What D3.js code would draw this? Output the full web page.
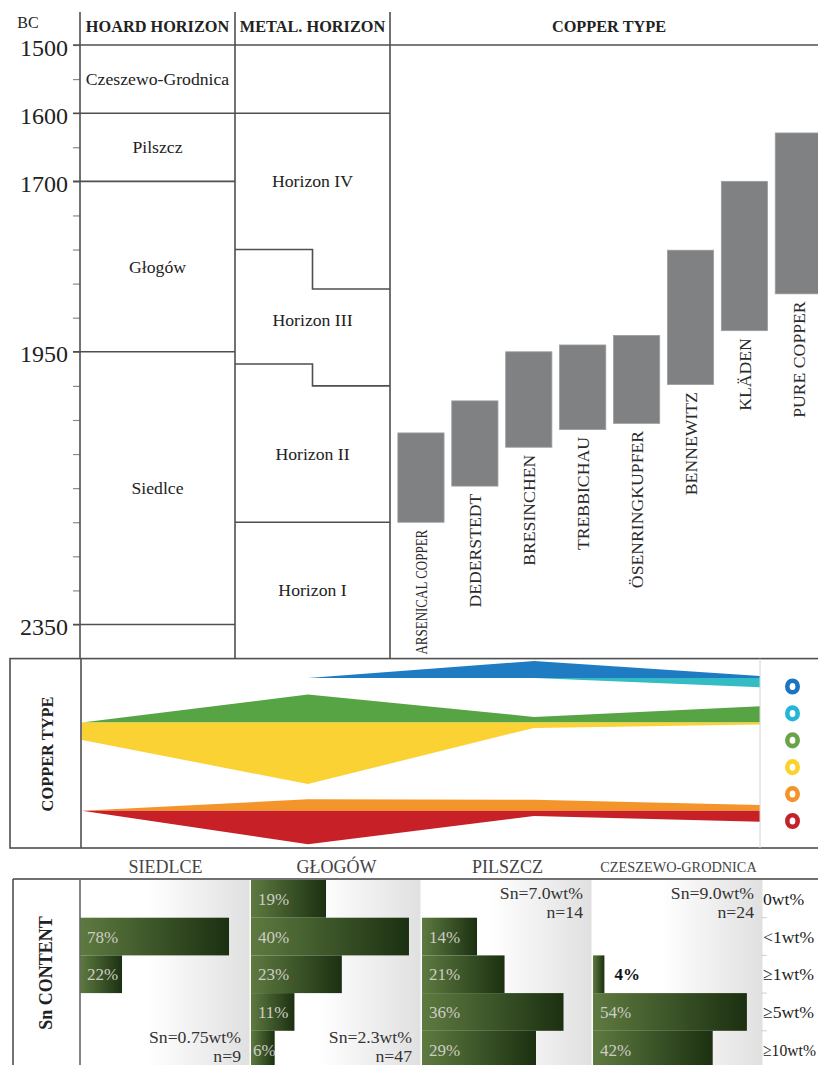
<!DOCTYPE html>
<html>
<head>
<meta charset="utf-8">
<script src="https://cdn.jsdelivr.net/npm/d3@7"></script>
<style>
  html, body { margin: 0; padding: 0; background: #fff; }
  svg { display: block; }
  svg text { font-family: "Liberation Serif", "Times New Roman", serif; }
</style>
</head>
<body>
<svg id="chart" width="818" height="1065"></svg>
<script>
// ---------------- data ----------------
// chronology, years BC (older = further down)
const yearTicks  = d3.range(1500, 2351, 50);
const yearLabels = [1500, 1600, 1700, 1950, 2350];

const hoardNames = ["Czeszewo-Grodnica", "Pilszcz", "Głogów", "Siedlce"];
const hoardStart = [1500, 1600, 1700, 1950];
const hoardEnd   = [1600, 1700, 1950, 2350];

const metalNames    = ["Horizon IV", "Horizon III", "Horizon II", "Horizon I"];
const metalStart    = 1600;
// boundaries between successive horizons: left half / right half of the column
const metalEndLeft  = [1800, 1968, 2200];
const metalEndRight = [1858, 2000, 2200];

const copperTypes   = ["ARSENICAL COPPER", "DEDERSTEDT", "BRESINCHEN", "TREBBICHAU",
                       "ÖSENRINGKUPFER", "BENNEWITZ", "KLÄDEN", "PURE COPPER"];
const copperOldest  = [2200, 2147, 2090, 2064, 2055, 1998, 1919, 1865];
const copperYoungest= [2069, 2022, 1950, 1940, 1926, 1801, 1700, 1629];

// copper type proportions per hoard horizon (stream widths)
const phases       = ["SIEDLCE", "GŁOGÓW", "PILSZCZ", "CZESZEWO-GRODNICA"];
const streamBlue   = [null, 0, 17, 2];
const streamCyan   = [null, null, 0, 9.3];
const streamGreen  = [0, 28, 5.6, 16.3];
const streamYellow = [17.5, 61.5, 5.4, 2];
const streamOrange = [0, 11.4, 10.9, 5.7];
const streamRed    = [0, 33.6, 5.4, 11];

// Sn content classes, % of objects per hoard horizon
const snClasses  = ["0wt%", "<1wt%", "≥1wt%", "≥5wt%", "≥10wt%"];
const snSiedlce  = [0, 78, 22, 0, 0];
const snGlogow   = [19, 40, 23, 11, 6];
const snPilszcz  = [0, 14, 21, 36, 29];
const snCzeszewo = [0, 0, 4, 54, 42];
const snMean     = ["Sn=0.75wt%", "Sn=2.3wt%", "Sn=7.0wt%", "Sn=9.0wt%"];
const snCount    = [9, 47, 14, 24];

// ---------------- layout / style ----------------
const FONT = '"Liberation Serif", "Times New Roman", serif';
const INK = "#222";
const RULE = "#4f4f4f";
const svg = d3.select("#chart").attr("font-family", FONT);

const y = d3.scaleLinear().domain([1500, 2350]).range([45, 624.5]);
const xAxis = 80, xMetal = 235, xCopper = 390, xRight = 818;
const yHead = 12, yEnd = y(2400);
const xMetalMid = (xMetal + xCopper) / 2;

function line(g, x1, y1, x2, y2, w, c) {
  return g.append("line").attr("x1", x1).attr("y1", y1).attr("x2", x2).attr("y2", y2)
    .attr("stroke", c || RULE).attr("stroke-width", w || 1.5);
}
function text(g, x, yy, s, size, opts) {
  opts = opts || {};
  return g.append("text").attr("x", x).attr("y", yy).text(s)
    .attr("font-size", size)
    .attr("font-weight", opts.bold ? "bold" : "normal")
    .attr("text-anchor", opts.anchor || "middle")
    .attr("fill", opts.fill || INK);
}

// ================= chronology table =================
const gTop = svg.append("g");

// header
text(gTop, 28, 28, "BC", 16);
text(gTop, (xAxis + xMetal) / 2, 32, "HOARD HORIZON", 16.3, {bold: true});
text(gTop, (xMetal + xCopper) / 2, 32, "METAL. HORIZON", 16.3, {bold: true});
text(gTop, 609, 32, "COPPER TYPE", 16.3, {bold: true});

// time axis
const axis = d3.axisLeft(y).tickValues(yearTicks).tickSize(7).tickPadding(5)
  .tickFormat(d => yearLabels.includes(d) ? d : "");
const gAxis = gTop.append("g").attr("transform", `translate(${xAxis},0)`).call(axis);
gAxis.attr("font-family", FONT).attr("font-size", 24);
gAxis.select(".domain").remove();
gAxis.selectAll(".tick line").attr("stroke", "#8a8a8a").attr("stroke-width", 1.2);
gAxis.selectAll(".tick text").attr("fill", INK).attr("dy", "0.42em");

// column rules
[xAxis, xMetal, xCopper].forEach(x => line(gTop, x, yHead, x, yEnd, 1.6));
line(gTop, xAxis - 7, y(1500), xRight, y(1500), 1.6);

// hoard horizons
hoardNames.forEach((name, i) => {
  line(gTop, xAxis - 7, y(hoardEnd[i]), xMetal, y(hoardEnd[i]), 1.6);
  text(gTop, (xAxis + xMetal) / 2, (y(hoardStart[i]) + y(hoardEnd[i])) / 2 + 6, name, 17.7);
});

// metallurgical horizons
line(gTop, xMetal, y(metalStart), xCopper, y(metalStart), 1.6);
metalEndLeft.forEach((yl, i) => {
  const yr = metalEndRight[i];
  gTop.append("path")
    .attr("d", `M${xMetal},${y(yl)}H${xMetalMid}V${y(yr)}H${xCopper}`)
    .attr("fill", "none").attr("stroke", RULE).attr("stroke-width", 1.6);
});
const metalLabelYear = [1700, 1903, 2100, 2300];
metalNames.forEach((name, i) => {
  text(gTop, xMetalMid, y(metalLabelYear[i]) + 6, name, 17.7);
});

// copper type ranges
const xType = d3.scaleBand().domain(copperTypes)
  .range([394, 825.3]).paddingInner(0.143).paddingOuter(0.0715);
const gBars = gTop.append("g");
copperTypes.forEach((t, i) => {
  const x0 = xType(t), bw = xType.bandwidth();
  gBars.append("rect")
    .attr("x", x0).attr("y", y(copperYoungest[i]))
    .attr("width", bw).attr("height", y(copperOldest[i]) - y(copperYoungest[i]))
    .attr("fill", "#7f8183").attr("stroke", "#9b9d9f").attr("stroke-width", 0.8);
  const ly = y(copperOldest[i]) + 7.5;
  const lab = gBars.append("text")
    .attr("transform", `translate(${x0 + bw / 2},${ly}) rotate(-90)`)
    .attr("text-anchor", "end").attr("dy", "0.35em")
    .attr("font-size", 17.7).attr("fill", "#2a2a2a").text(t);
  const room = yEnd - 4 - ly;
  if (lab.node().getComputedTextLength() > room) {
    lab.attr("textLength", room).attr("lengthAdjust", "spacingAndGlyphs");
  }
});

// ================= copper type streams =================
const gMid = svg.append("g");
const yMidTop = yEnd, yMidBot = 848, xMidLeft = 10, xLegend = 760;
const xPhase = d3.scalePoint().domain(phases).range([82, xLegend]);
const thick = d3.scaleLinear().domain([0, 60]).range([0, 60]);

function stream(values, base, dir, color) {
  const pts = phases.map((p, i) => ({p, v: values[i]}));
  const area = d3.area()
    .defined(d => d.v != null)
    .x(d => xPhase(d.p))
    .y0(base)
    .y1(d => base + dir * thick(d.v));
  gMid.append("path").attr("d", area(pts)).attr("fill", color);
}
const baseA = 678, baseB = 722.5, baseC = 810.7;
stream(streamBlue,   baseA, -1, "#1f7cc3");
stream(streamCyan,   baseA,  1, "#33bcc3");
stream(streamGreen,  baseB, -1, "#57a445");
stream(streamYellow, baseB,  1, "#fad233");
stream(streamOrange, baseC, -1, "#f4952b");
stream(streamRed,    baseC,  1, "#c72027");

gMid.append("rect").attr("x", xMidLeft).attr("y", yMidTop)
  .attr("width", 840).attr("height", yMidBot - yMidTop)
  .attr("fill", "none").attr("stroke", RULE).attr("stroke-width", 1.6);
line(gMid, 81, yMidTop, 81, yMidBot, 1.6);
line(gMid, xLegend, yMidTop, xLegend, yMidBot, 1, "#d4d4d4");

gMid.append("text")
  .attr("transform", `translate(47,754) rotate(-90)`)
  .attr("text-anchor", "middle").attr("dy", "0.35em")
  .attr("font-size", 16.4).attr("font-weight", "bold").attr("fill", INK)
  .text("COPPER TYPE");

// legend rings
const legendColors = ["#1d74bf", "#22b6d8", "#6aa447", "#fbd22c", "#f39329", "#c4212b"];
legendColors.forEach((c, i) => {
  gMid.append("ellipse").attr("cx", 792.5).attr("cy", 686.5 + i * 26.9)
    .attr("rx", 5.2).attr("ry", 5.8).attr("fill", "none").attr("stroke", c).attr("stroke-width", 4.6);
});

// ================= Sn content =================
const gBot = svg.append("g");
const snSeries = [snSiedlce, snGlogow, snPilszcz, snCzeszewo];
const snScaleMax = [89.5, 43.3, 43.5, 60];
const xPanel = d3.scaleBand().domain(phases).range([80, 764]);
const yRow = d3.scaleBand().domain(snClasses).range([880, 880 + 5 * 37.7]);
const yBotTop = 879;

const defs = svg.append("defs");
const bg = defs.append("linearGradient").attr("id", "panelBg").attr("x1", 0).attr("x2", 1).attr("y1", 0).attr("y2", 0);
bg.append("stop").attr("offset", "0%").attr("stop-color", "#ffffff");
bg.append("stop").attr("offset", "40%").attr("stop-color", "#ffffff");
bg.append("stop").attr("offset", "100%").attr("stop-color", "#e0e0e0");
const barG = defs.append("linearGradient").attr("id", "snBar").attr("x1", 0).attr("x2", 1).attr("y1", 0).attr("y2", 0);
barG.append("stop").attr("offset", "0%").attr("stop-color", "#5e7a40");
barG.append("stop").attr("offset", "100%").attr("stop-color", "#1b3011");

// phase headings
phases.forEach((p, i) => {
  const small = p.length > 10;
  text(gBot, xPanel(p) + xPanel.bandwidth() / 2, small ? 871.5 : 872.5, p, small ? 14.3 : 18, {fill: "#444"});
});

phases.forEach((p, i) => {
  const x0 = xPanel(p);
  const pw = xPanel.bandwidth() - 1.5;
  const xs = d3.scaleLinear().domain([0, snScaleMax[i]]).range([x0, x0 + xPanel.bandwidth()]);
  const g = gBot.append("g");
  g.append("rect").attr("x", x0).attr("y", yBotTop).attr("width", pw).attr("height", 200)
    .attr("fill", "url(#panelBg)");
  snClasses.forEach((c, j) => {
    const v = snSeries[i][j];
    if (!v) return;
    const w = xs(v) - x0;
    g.append("rect").attr("x", x0).attr("y", yRow(c))
      .attr("width", w).attr("height", yRow.bandwidth())
      .attr("fill", "url(#snBar)");
    const cy = yRow(c) + yRow.bandwidth() / 2 + 6;
    if (w > 20) {
      text(g, x0 + (w > 30 ? 7 : 2), cy, v + "%", 17, {anchor: "start", fill: "#cdcdc5"});
    } else {
      text(g, x0 + w + 10, cy, v + "%", 17, {anchor: "start", bold: true, fill: "#111"});
    }
  });
  // mean Sn and sample size: placed in the free corner of the panel
  const last = snSeries[i][snClasses.length - 1];
  const atBottom = last < 10;
  const xr = x0 + xPanel.bandwidth() - 10;
  const y1 = atBottom ? 1043 : 899;
  text(g, xr, y1, snMean[i], 17.7, {anchor: "end", fill: "#333"});
  text(g, xr, y1 + 19, "n=" + snCount[i], 17.7, {anchor: "end", fill: "#333"});
});

// class labels and separators
snClasses.forEach((c, j) => {
  const lab = text(gBot, 763, yRow(c) + yRow.bandwidth() / 2 + 6, c, 17.7, {anchor: "start", fill: "#222"});
  const room = xRight - 2 - 763;
  if (lab.node().getComputedTextLength() > room) {
    lab.attr("textLength", room).attr("lengthAdjust", "spacingAndGlyphs");
  }
  if (j > 0) line(gBot, 761, yRow(c), 767, yRow(c), 1, "#cfcfcf");
});

line(gBot, 13, yBotTop, xRight, yBotTop, 2.2, "#707070");
line(gBot, 13, yBotTop, 13, 1065, 1.6);
line(gBot, 80, yBotTop, 80, 1065, 1.6, "#666");

gBot.append("text")
  .attr("transform", `translate(46,973) rotate(-90)`)
  .attr("text-anchor", "middle").attr("dy", "0.35em")
  .attr("font-size", 18).attr("font-weight", "bold").attr("fill", INK)
  .text("Sn CONTENT");
</script>
</body>
</html>
